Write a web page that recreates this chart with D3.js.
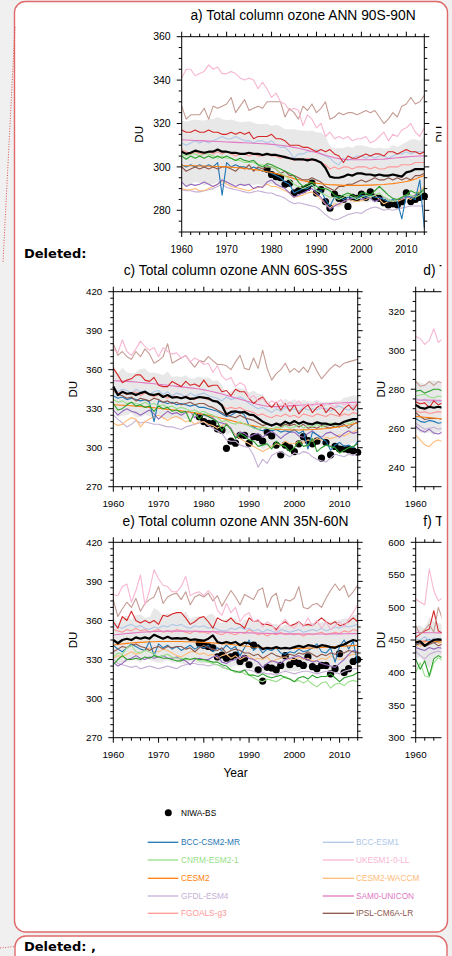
<!DOCTYPE html>
<html><head><meta charset="utf-8">
<script src="https://cdn.jsdelivr.net/npm/d3@7"></script>
<style>
html,body{margin:0;padding:0;background:#f0f0f0;}
svg{display:block;}
</style></head><body>
<svg id="chart" width="452" height="956"></svg>
<script>
// ---------------- categories ----------------
const years = d3.range(1960, 2015);        // 1960..2014
const yearsShort = d3.range(1960, 1967);   // visible part of panels d and f
const obsYears = d3.range(1979, 2015);     // NIWA-BS record

// ---------------- tick labels ----------------
const xTickLabels = [1960, 1970, 1980, 1990, 2000, 2010];
const aYTicks = [280, 300, 320, 340, 360];
const cYTicks = [270, 300, 330, 360, 390, 420];
const dYTicks = [240, 260, 280, 300, 320];
const eYTicks = [270, 300, 330, 360, 390, 420];
const fYTicks = [300, 350, 400, 450, 500, 550, 600];

// ---------------- models ----------------
const modelKeys   = ["GFDL_ESM4","CESM2_WACCM","X_purple","BCC_CSM2_MR","IPSL_CM6A_LR","CESM2","CNRM_ESM2_1","X_green","FGOALS_g3","BCC_ESM1","SAM0_UNICON","X_red","X_lbrown","UKESM1_0_LL"];
const modelColors = ["#c5b0d5","#ffbb78","#9467bd","#1f77b4","#8c564b","#ff7f0e","#98df8a","#2ca02c","#ff9896","#aec7e8","#e377c2","#d62728","#c49c94","#f7b6d2"];

const legendLeft  = ["BCC-CSM2-MR","CNRM-ESM2-1","CESM2","GFDL-ESM4","FGOALS-g3"];
const legendLeftC = ["#1f77b4","#98df8a","#ff7f0e","#c5b0d5","#ff9896"];
const legendRight = ["BCC-ESM1","UKESM1-0-LL","CESM2-WACCM","SAM0-UNICON","IPSL-CM6A-LR"];
const legendRightC= ["#aec7e8","#f7b6d2","#ffbb78","#e377c2","#8c564b"];

// ================= panel a : 90S-90N =================
const a_UKESM1_0_LL = [341,345,345,342,343,344,347,345,346,343, 343,344,343,341,340,341,340,336,339,336, 332,334,330,329,326,327,326,319,324,322, 318,320,314,316,313,314,313,314,312,313, 313,314,311,312,314,316,312,315,314,317, 318,320,316,314,318];
const a_X_lbrown = [328,322,324,324,324,327,322,328,327,328, 329,332,325,328,331,326,327,328,327,330, 330,330,330,323,327,325,322,328,326,329, 325,327,330,322,323,325,324,325,325,324, 325,326,325,326,323,320,322,325,323,328, 329,332,329,330,333];
const a_X_red = [317,316,316,317,316,316,317,316,316,315, 315,316,315,316,315,316,313,314,314,314, 315,313,313,312,310,310,310,309,309,308, 307,308,307,308,306,305,302,305,304,304, 305,306,305,306,306,305,307,307,306,307, 308,307,307,306,307];
const a_BCC_ESM1 = [311,310,311,312,311,312,311,312,313,314, 313,313,314,313,312,312,311,312,312,311, 312,310,309,309,307,304,306,306,307,307, 308,306,305,304,302,301,304,303,304,305, 305,304,305,304,305,305,304,305,306,306, 307,306,307,307,307];
const a_SAM0_UNICON = [312.5,312.4,312.3,312.2,312.1,312.0,311.9,311.8,311.7,311.6, 311.5,311.4,311.3,311.2,311.1,311.0,310.9,310.8,310.7,310.6, 310.4,310.2,310.0,309.7,309.4,309.0,308.6,308.1,307.6,307.1, 306.6,306.0,305.4,304.8,304.2,303.8,303.5,303.4,303.3,303.3, 303.3,303.3,303.3,303.4,303.5,303.6,303.8,304.0,304.2,304.4, 304.6,304.8,304.9,305.0,305.1];
const a_FGOALS_g3 = [308,307,306,307,306,306,307,306,307,306, 307,306,305,306,306,305,306,305,305,306, 305,305,304,305,304,303,304,303,304,303, 303,302,301,299,300,299,300,300,299,300, 300,300,299,300,299,299,300,300,300,301, 301,301,302,302,302];
const a_X_green = [305,303.5,305,304,305,304,305,304,305,304, 305,304,303,304,303,302.5,303,301,300,301.5, 301,300,299,298,297,296,293,291,292,293, 291,290,290,289,287,286,287,288,287,286, 288,288,287,289,291,289,287,285.5,285,286, 287,289,288,288,290];
const a_CNRM_ESM2_1 = [306,305,306,306,305,306,306,305,304,305, 304,304,303,303,302,302,302,301,301,300, 300,299,297,296,294,292,291,290,291,292, 289,288,287,286,286,285,286,287,286,285, 286,287,286,287,288,286,285,284,285,286, 287,287,286,287,289];
const a_CESM2 = [300.5,300.5,300.5,300.5,300.4,300.4,300.3,300.3,300.2,300.1, 300.0,299.9,299.7,299.5,299.3,299.0,298.8,298.5,298.2,297.8, 297.4,296.9,296.4,295.8,295.2,294.6,294.1,293.6,293.2,292.8, 292.5,292.2,292.0,291.8,291.7,291.6,291.5,291.5,291.5,291.5, 291.5,291.6,291.6,291.7,291.8,291.9,292.1,292.3,292.6,292.9, 293.3,293.8,294.4,295.2,296];
const a_IPSL_CM6A_LR = [300,298,299,300,299,300,299,300,299,300, 300,299,298,300,299,301,298,300,299,300, 300,299,297,298,296,296,295,294,294,295, 294,293,291,290,289,291,291,292,292,293, 294,293,294,295,294,294,295,294,295,294, 295,294,296,296,297];
const a_BCC_CSM2_MR = [301,300,301,300,301,300,301,300,302,287, 302,300,301,300,300,299,300,299,298,298, 297,296,295,293,292,288,289,290,290,292, 289,289,285,282,286,286,285,286,286,285, 287,286,287,286,286,285,284,285,284,276, 287,286,285,294,272];
const a_X_purple = [293,291,292,291.5,292,293,292,291,292,294, 293,292,291,292,291.5,292,290,291,290.5,293, 294,292,291,290,288,286,287,288,289,290, 288,286,283,280.5,282,283,284,285,285.5,286, 285,286,285.5,284,285,286,285,284,285,285.5, 286,286,287,288,289];
const a_CESM2_WACCM = [290,289.5,289.5,290,289,289,290,291,292,293.5, 292,291,290.5,290,289.5,289,290,290.5,291,292, 291,291,290,289,288,286,286.5,287,288,288.5, 287,285,283,281,283,282.5,284,285,284.5,284, 284.5,285,286,287,285,283,284,284.5,284,285, 286,285,287,289,291];
const a_GFDL_ESM4 = [289.5,289,289,288.5,288.5,289,289.5,290,291,292, 290.5,290,289.5,289,288.5,288,288.5,289,288.5,288, 288,287,286.5,285.5,284,283,283.5,283,282.5,282, 281.5,280,278,276.5,275.5,276,277,278,278.5,279, 278.5,280,281,281.5,281,280,280.5,280,280.5,281, 281.5,282,282,282,282];
const a_mean = [307,306,306.5,307.5,307,306.5,307,307,308,307, 307,306.5,306.5,306,306,306.5,306,306,305.5,306, 305.5,305.5,305,304.5,304,303.5,303.5,303.5,303,303.5, 303,302,299.5,295.5,295,295,295.5,296.5,296,297, 297,296.5,296.5,296,296.5,296,296,296.5,296,295.5, 297.5,298,299,299,299];
const a_obs = [299,296.5,295.5,295,292,292.5,288,289,289.5,290.5, 292.5,288,289.5,284,281,287.5,285.5,285,281.8,286, 285.5,287.5,286,288.5,286,285.5,283.5,282.5,283,282.5, 284,288,284,285,286,286.5];

// ================= panel c : 60S-35S =================
const c_UKESM1_0_LL = [376,373,383,374,371,376,382,378,375,377, 370,377,374,372,373,369,371,366,369,367, 364,365,358,363,355,352,354,347,350,348, 338,340,336,338,333,336,334,337,332,335, 333,336,331,334,332,335,330,334,333,331, 335,333,334,332,335];
const c_X_lbrown = [380,371,374,370,368,374,370,376,372,365, 367,370,380,365,367,369,371,366,362,367, 366,370,367,364,364,363,360,366,371,361, 360,369,361,375,361,352,357,360,365,358, 361,358,362,358,366,359,353,357,361,364, 362,365,366,367,368];
const c_X_red = [361,356,350,352,353,356,356,352,351,354, 348,347,347,351,349,347,351,348,349,347, 352,347,348,348,343,344,340,345,343,343, 338,334,337,339,334,331,335,329,334,328, 333,326,330,333,327,331,333,327,331,329, 325,330,333,329,334];
const c_SAM0_UNICON = [351.5,351.4,351.2,351.0,350.8,350.5,350.2,349.9,349.6,349.2, 348.8,348.4,348.0,347.6,347.2,346.8,346.4,346.0,345.6,345.1, 344.5,343.8,343.0,342.2,341.3,340.3,339.3,338.3,337.3,336.3, 335.3,334.3,333.3,332.5,331.9,331.6,331.6,331.8,332.0,332.2, 332.4,332.6,332.8,333.0,333.2,333.4,333.6,333.8,334.0,334.2, 334.4,334.6,334.8,334.9,335.0];
const c_BCC_ESM1 = [347,343,345,344,342,345,343,344,341,343, 344,341,343,340,342,341,339,342,340,341, 342,340,339,338,336,339,337,338,339,337, 334,332,330,331,329,327,330,328,331,329, 330,328,331,329,330,329,331,330,328,331, 332,330,329,331,328];
const c_FGOALS_g3 = [344,342,343,341,342,343,340,342,341,339, 341,340,338,340,339,338,340,338,337,339, 338,337,336,335,333,330,331,330,331,329, 328,327,325,326,324,323,325,324,326,324, 325,323,326,325,324,326,325,324,326,325, 324,326,325,327,326];
const c_IPSL_CM6A_LR = [344,341,340,338,339,336,338,337,336,338, 337,335,336,334,335,333,334,335,333,334, 334,332,331,329,327,325,324,323,325,323, 322,321,319,317,318,317,319,316,318,317, 318,316,318,315,316,315,317,316,315,317, 316,318,315,318,320];
const c_BCC_CSM2_MR = [340,338,339,337,338,337,336,337,335,320, 336,335,334,335,333,334,333,332,333,331, 331,330,329,328,326,324,325,327,328,325, 317,316,314,313,315,313,314,312,313,312, 314,311,313,299,312,310,307,305,298,302, 304,301,302,300,305];
const c_CESM2 = [333,332.9,332.7,332.5,332.3,332.0,331.7,331.4,331.0,330.7, 330.3,329.9,329.5,329.1,328.7,328.3,327.8,327.3,326.8,326.2, 325.6,324.9,324.2,323.4,322.6,321.8,320.9,320.0,319.1,318.3, 317.5,316.8,316.1,315.5,315.0,314.6,314.3,314.0,313.8,313.7, 313.6,313.6,313.7,313.8,314.0,314.2,314.5,314.8,315.2,315.6, 316.1,316.7,317.4,318.2,319];
const c_X_green = [334,329,330,333,335,332,333,331,332,328, 332,330,331,328,329,327,328,320,327,322, 326,324,322,320,313,318,314,307,311,309, 306,305,301,302,303,299,305,302,301,297, 300,305,301,302,307,297,300,302,301,300, 296,298,300,301,303];
const c_CNRM_ESM2_1 = [337,335,336,334,335,334,333,335,333,334, 332,333,331,332,330,331,330,328,329,327, 328,326,325,323,320,321,319,318,320,318, 317,315,314,316,315,314,316,315,317,315, 316,318,315,317,316,318,316,317,319,317, 318,320,318,320,323];
const c_X_purple = [329,325,328,330,328,327,325,327,329,326, 322,325,328,326,327,325,327,328,323,326, 325,324,323,320,319,318,315,308,312,311, 308,310,311,308,311,313,310,307,310,312, 312,309,308,311,313,310,308,311,312,310, 308,311,313,311,312];
const c_CESM2_WACCM = [319,317,318,321,323,322,316,320,322,324, 325,323,321,323,324,322,320,321,318,320, 320,318,317,315,317,319,314,310,307,305, 303,301,299,297,299,301,303,302,305,303, 303,305,304,306,305,307,306,308,307,308, 310,309,311,312,314];
const c_GFDL_ESM4 = [325,322,319,316,318,321,319,320,319,318, 318,317,316,316,315,314,316,317,318,319, 320,317,315,313,311,306,305,305,302,301, 300,294,285,291,288,294,296,297,295,293, 296,295,297,296,293,291,290,289,292,295, 294,293,295,294,296];
const c_mean = [347,340.5,343,341.5,342,340.5,342,343,341,340.5, 341.5,339,340.5,338.5,339,338,339,337.5,338,339, 338.5,338,336,335.5,332.5,325.5,327.5,328,327,327.5, 325.5,325,322.5,320,318.5,317,318.5,317.5,320,318.5, 320.5,318.5,320,318.5,318,319.5,318.5,318.5,317.5,318.5, 318,320,321,322,322];
const c_obs = [323.8,320,318.7,318.5,314.5,313.5,299.5,305,303.5,309.5, 309.5,303.5,308.5,308,305,312,309,302,294.5,302, 300,297,303,308.5,305.5,303,305,292,304,294.5, 301,299,299,298.5,297.5,296.5];

// ================= panel e : 35N-60N =================
const e_UKESM1_0_LL = [380,379,386,388,374,383,395,372,383,399, 392,387,386,382,382,386,394,379,381,382, 379,383,379,368,364,373,366,370,359,364, 366,359,361,355,359,357,351,357,361,356, 354,359,355,362,356,360,354,359,353,356, 359,355,361,366,372];
const e_X_lbrown = [376,363,369,374,370,377,367,373,376,378, 386,373,378,380,381,376,382,372,378,380, 378,381,375,379,371,377,383,378,372,380, 378,376,383,385,370,378,381,367,376,375, 377,386,370,369,372,373,370,377,383,388, 383,387,378,382,387];
const e_X_red = [359,354,363,360,367,360,358,360,358,360, 357,364,363,365,366,366,362,357,359,362, 363,359,354,362,360,359,362,358,357,354, 362,359,360,357,357,356,353,357,359,356, 357,359,356,357,356,359,362,359,357,359, 356,357,359,362,359];
const e_BCC_ESM1 = [357,355,354,356,357,355,356,354,353,355, 354,356,355,357,356,357,355,354,356,355, 356,354,355,353,352,352,354,353,355,353, 354,352,353,351,353,352,350,353,352,351, 352,353,351,352,353,352,354,352,353,355, 354,356,355,356,357];
const e_FGOALS_g3 = [353,352,351,353,352,354,352,353,351,352, 353,351,352,351,353,352,351,350,352,351, 351,350,352,350,349,351,350,349,351,350, 353,351,349,350,348,350,349,351,349,350, 349,350,348,350,349,350,351,349,350,351, 350,352,351,353,352];
const e_SAM0_UNICON = [348.8,349.2,349.6,350.0,350.3,350.6,350.9,351.1,351.3,351.5, 351.6,351.7,351.8,351.8,351.8,351.8,351.8,351.7,351.7,351.6, 351.5,351.4,351.3,351.2,351.1,351.0,350.9,350.8,350.7,350.6, 350.5,350.4,350.3,350.2,350.1,350.0,349.9,349.8,349.8,349.7, 349.7,349.6,349.6,349.6,349.6,349.6,349.6,349.6,349.7,349.7, 349.7,349.8,349.8,349.9,349.9];
const e_CESM2 = [341.2,341.6,342.0,342.4,342.7,343.0,343.2,343.4,343.6,343.7, 343.8,343.9,343.9,343.9,343.9,343.8,343.7,343.6,343.5,343.4, 343.2,343.0,342.8,342.5,342.2,341.9,341.6,341.2,340.8,340.4, 340.0,339.7,339.4,339.1,338.9,338.7,338.6,338.5,338.5,338.5, 338.5,338.6,338.7,338.8,338.9,339.1,339.3,339.5,339.7,339.9, 340.1,340.3,340.5,340.7,340.9];
const e_IPSL_CM6A_LR = [336,338,340,339,341,342,340,339,337,339, 340,338,340,339,340,340,338,339,336,339, 341,339,338,337,339,335,337,338,337,335, 335,333,334,331,333,335,333,332,332,334, 333,335,334,336,334,332,334,333,335,334, 336,335,337,336,335];
const e_BCC_CSM2_MR = [341,338,336,339,342,340,338,337,344,333, 342,339,341,338,340,337,339,341,338,340, 339,341,336,339,337,341,338,340,333,339, 345,337,340,335,338,337,339,335,334,336, 335,338,336,337,339,342,336,335,339,328, 340,345,338,344,327];
const e_CESM2_WACCM = [331,333,332,334,336,334,335,337,339,336, 336,338,337,335,333,332,334,336,336,334, 335,333,334,331,333,334,331,333,330,332, 333,330,331,330,332,328,330,331,332,330, 330,332,330,331,329,329,331,330,333,331, 330,331,333,334,334];
const e_X_purple = [328,325,327,330,331,333,331,330,332,331, 332,333,331,331,332,330,329,326,330,331, 330,330,332,333,328,327,329,330,332,333, 331,330,328,324,327,329,328,327,330,331, 332,333,331,330,328,329,327,326,325,324, 327,330,334,337,336];
const e_X_green = [326,330,333,330,330,331,330,332,331,333, 332,331,331,330,329,329,331,330,331,330, 330,329,328,328,326,325,322,321,320,322, 318,318,317,319,317,316,317,318,316,315, 313,316,317,315,318,316,317,317,319,316, 313,316,317,318,320];
const e_CNRM_ESM2_1 = [332,335,334,339,341,336,335,337,336,334, 332,333,334,332,331,331,330,330,331,329, 329,328,327,326,324,323,322,320,321,319, 318,316,314,313,315,314,313,315,317,315, 313,314,312,314,311,309,312,313,308,311, 312,310,313,314,313];
const e_GFDL_ESM4 = [330,327,326,325,324,325,323,324,325,324, 323,324,325,324,323,325,326,327,327,326, 326,325,326,326,325,323,322,321,321,322, 322,321,319,320,319,319,318,320,321,320, 319,320,321,321,320,319,320,321,321,320, 319,321,322,323,323];
const e_mean = [345,342.5,345,346,345,347,346,347,346,349, 347.5,346,347.5,346,346.5,346,346.5,345,345.5,345, 344.5,346,348.5,343.5,342.5,343.5,342.5,343.5,341,343, 342.5,340,341,338,339,338.5,339.5,338.5,339,338.5, 339.5,340.5,339.5,341,340.5,339.5,341,340.5,339.5,339, 340.5,341.5,343.5,345,344];
const e_obs = [342.5,341,340,339,332,333.5,331,332,333.5,328.5, 331,326,341,322,313.5,324,323.5,322,325.5,333, 326,328.5,327,325.5,332,324.5,323,325.5,325.5,319, 323,334.5,320,323,328.5,330];

// ================= panel d (visible start only) =================
const d_UKESM1_0_LL = [307,306,303,305,311,304,306];
const d_X_lbrown    = [284,281.5,282,284,282,284,283];
const d_X_green     = [279,279.5,278,279,280,280,279];
const d_CNRM_ESM2_1 = [276.5,277,277.5,276,275.5,276.5,276];
const d_X_red       = [273.5,272.5,273,270.5,274,272,273];
const d_SAM0_UNICON = [274.5,274.5,274.4,274.4,274.3,274.3,274.2];
const d_BCC_ESM1    = [275.5,274,275,273,274.5,273.5,274];
const d_FGOALS_g3   = [269,268,268.5,267.5,268,268.5,268];
const d_IPSL_CM6A_LR= [268,266,264.5,265,265,265,264.5];
const d_CESM2       = [266,265.8,265.6,265.4,265.2,265.0,264.8];
const d_BCC_CSM2_MR = [265,263.5,263,264,263.5,262.5,263];
const d_CESM2_WACCM = [256.5,254,251.5,250.5,253,254,253];
const d_X_purple    = [261,259,258,259.5,257.5,257,258];
const d_GFDL_ESM4   = [262.5,261,259.5,260,260.5,259.5,260];
const d_mean        = [272,270.5,270,271,270.5,271,270.5];

// ================= panel f (visible start only) =================
const f_UKESM1_0_LL = [513,508,504,559,526,510,515];
const f_X_lbrown    = [472,459,466,474,462,500,480];
const f_X_red       = [454,459,464,467,495,464,460];
const f_SAM0_UNICON = [461.5,461.4,461.3,461.2,461.1,461,460.9];
const f_BCC_ESM1    = [452,450,455,449,453,451,452];
const f_FGOALS_g3   = [448,447,449,446,452,450,449];
const f_CESM2       = [448,448,447.8,447.6,447.4,447.2,447];
const f_CESM2_WACCM = [444,440,446,443,450,445,447];
const f_IPSL_CM6A_LR= [442,445,440,443,446,441,444];
const f_BCC_CSM2_MR = [447,444,449,451,446,448,450];
const f_X_purple    = [438.5,436,434,438.5,436,438.5,437];
const f_GFDL_ESM4   = [433,426,421,428,431,433,430];
const f_X_green     = [420,405,418,395,421,426,422];
const f_CNRM_ESM2_1 = [400,415,395,393,415,423,418];
const f_mean        = [446,448,441,446,450,451,450];

// ---------------- assemble ----------------
function collect(prefix, src){ const o = {}; modelKeys.forEach(k => o[k] = src[prefix + k]); return o; }
const SRC = {a_UKESM1_0_LL,a_X_lbrown,a_X_red,a_BCC_ESM1,a_SAM0_UNICON,a_FGOALS_g3,a_X_green,a_CNRM_ESM2_1,a_CESM2,a_IPSL_CM6A_LR,a_BCC_CSM2_MR,a_X_purple,a_CESM2_WACCM,a_GFDL_ESM4,
 c_UKESM1_0_LL,c_X_lbrown,c_X_red,c_BCC_ESM1,c_SAM0_UNICON,c_FGOALS_g3,c_X_green,c_CNRM_ESM2_1,c_CESM2,c_IPSL_CM6A_LR,c_BCC_CSM2_MR,c_X_purple,c_CESM2_WACCM,c_GFDL_ESM4,
 e_UKESM1_0_LL,e_X_lbrown,e_X_red,e_BCC_ESM1,e_SAM0_UNICON,e_FGOALS_g3,e_X_green,e_CNRM_ESM2_1,e_CESM2,e_IPSL_CM6A_LR,e_BCC_CSM2_MR,e_X_purple,e_CESM2_WACCM,e_GFDL_ESM4,
 d_UKESM1_0_LL,d_X_lbrown,d_X_red,d_BCC_ESM1,d_SAM0_UNICON,d_FGOALS_g3,d_X_green,d_CNRM_ESM2_1,d_CESM2,d_IPSL_CM6A_LR,d_BCC_CSM2_MR,d_X_purple,d_CESM2_WACCM,d_GFDL_ESM4,
 f_UKESM1_0_LL,f_X_lbrown,f_X_red,f_BCC_ESM1,f_SAM0_UNICON,f_FGOALS_g3,f_X_green,f_CNRM_ESM2_1,f_CESM2,f_IPSL_CM6A_LR,f_BCC_CSM2_MR,f_X_purple,f_CESM2_WACCM,f_GFDL_ESM4};

const FONT = "'Liberation Sans', Arial, Helvetica, sans-serif";
const CLIP_X = 441.5;

const panels = [
 {title:"a) Total column ozone ANN 90S-90N", anchor:"middle", x0:181.7, y0:36.7, w:242.6, h:195.3, dom:[270,360], yt:aYTicks, minorStep:5, yrs:years, series:collect("a_",SRC), mean:a_mean, obs:a_obs, duX:142.5, yFs:10.5, xFs:10},
 {title:"c) Total column ozone ANN 60S-35S", anchor:"middle", x0:113.3, y0:291.7, w:244.4, h:195, dom:[270,420], yt:cYTicks, minorStep:5, yrs:years, series:collect("c_",SRC), mean:c_mean, obs:c_obs, duX:76.5, yFs:9.8, xFs:9.8},
 {title:"d) T", anchor:"start", x0:415.7, y0:291.7, w:244.4, h:195, dom:[230,330], yt:dYTicks, minorStep:5, yrs:yearsShort, series:collect("d_",SRC), mean:d_mean, obs:null, duX:384.8, yFs:9.8, xFs:9.8},
 {title:"e) Total column ozone ANN 35N-60N", anchor:"middle", x0:113.3, y0:542.3, w:244.4, h:195.4, dom:[270,420], yt:eYTicks, minorStep:5, yrs:years, series:collect("e_",SRC), mean:e_mean, obs:e_obs, duX:76.5, yFs:9.8, xFs:9.8},
 {title:"f) T", anchor:"start", x0:415.7, y0:542.3, w:244.4, h:195.4, dom:[300,600], yt:fYTicks, minorStep:10, yrs:yearsShort, series:collect("f_",SRC), mean:f_mean, obs:null, duX:384.8, yFs:9.8, xFs:9.8}
];

// ---------------- page decorations ----------------
const svg = d3.select("#chart");
svg.append("rect").attr("width",452).attr("height",956).attr("fill","#f0f0f0");
svg.append("rect").attr("x",14.5).attr("y",1.5).attr("width",433).attr("height",930.5).attr("rx",11)
  .attr("fill","#fff").attr("stroke","#e06a6a").attr("stroke-width",1.4);
svg.append("rect").attr("x",15).attr("y",936).attr("width",432).attr("height",40).attr("rx",11)
  .attr("fill","#fff").attr("stroke","#e06a6a").attr("stroke-width",1.4);
svg.append("path").attr("d","M15,27 L3,262").attr("fill","none").attr("stroke","#d9534f")
  .attr("stroke-width",1).attr("stroke-dasharray","1,1.6");
svg.append("path").attr("d","M0,948 L15,946.5").attr("fill","none").attr("stroke","#d9534f")
  .attr("stroke-width",1).attr("stroke-dasharray","1,1.6");
svg.append("text").attr("x",24).attr("y",258).text("Deleted:")
  .attr("font-family","'DejaVu Sans', Verdana, sans-serif").attr("font-weight","bold").attr("font-size",13).attr("fill","#000");
svg.append("text").attr("x",24).attr("y",951).text("Deleted: ,")
  .attr("font-family","'DejaVu Sans', Verdana, sans-serif").attr("font-weight","bold").attr("font-size",13).attr("fill","#000");

svg.append("defs").append("clipPath").attr("id","clipR")
  .append("rect").attr("x",0).attr("y",0).attr("width",CLIP_X).attr("height",956);
const chart = svg.append("g").attr("clip-path","url(#clipR)");

// ---------------- panels ----------------
panels.forEach(p => {
  const g = chart.append("g");
  const x = d3.scaleLinear().domain([1960,2014]).range([p.x0, p.x0 + p.w]);
  const y = d3.scaleLinear().domain(p.dom).range([p.y0 + p.h, p.y0]);

  // spread band: multi-model mean +/- inter-model standard deviation
  const band = p.yrs.map((yr,i) => {
    const sd = d3.deviation(modelKeys.map(k => p.series[k][i]));
    return {yr, lo:p.mean[i]-sd, hi:p.mean[i]+sd};
  });
  g.append("path").datum(band).attr("fill","#e8e8e8")
    .attr("d", d3.area().x(d=>x(d.yr)).y0(d=>y(d.lo)).y1(d=>y(d.hi)));

  // observations
  if (p.obs) {
    g.selectAll("circle.obs").data(p.obs.map((v,i)=>({yr:obsYears[i], v})))
      .join("circle").attr("cx",d=>x(d.yr)).attr("cy",d=>y(d.v)).attr("r",3.6).attr("fill","#000");
  }

  // model lines
  const line = d3.line().x((d,i)=>x(p.yrs[i])).y(d=>y(d));
  modelKeys.forEach((k,mi) => {
    g.append("path").datum(p.series[k]).attr("fill","none")
      .attr("stroke",modelColors[mi]).attr("stroke-width",1.1).attr("stroke-linejoin","round").attr("d",line);
  });
  // multi-model mean
  g.append("path").datum(p.mean).attr("fill","none").attr("stroke","#000")
    .attr("stroke-width",2.2).attr("stroke-linejoin","round").attr("d",line);

  // frame
  g.append("rect").attr("x",p.x0).attr("y",p.y0).attr("width",p.w).attr("height",p.h)
    .attr("fill","none").attr("stroke","#000").attr("stroke-width",1);

  // ticks
  const tk = g.append("g").attr("stroke","#000").attr("stroke-width",1);
  const yMinor = d3.range(p.dom[0], p.dom[1] + 0.001, p.minorStep).filter(v => !p.yt.includes(v));
  const xMinor = d3.range(1960, 2015, 2).filter(v => !xTickLabels.includes(v));
  const yT = [...p.yt.map(v=>({v,l:5})), ...yMinor.map(v=>({v,l:3}))];
  const xT = [...xTickLabels.map(v=>({v,l:5})), ...xMinor.map(v=>({v,l:3}))];
  yT.forEach(t => {
    tk.append("line").attr("x1",p.x0 - t.l).attr("x2",p.x0).attr("y1",y(t.v)).attr("y2",y(t.v));
    tk.append("line").attr("x1",p.x0 + p.w).attr("x2",p.x0 + p.w + t.l).attr("y1",y(t.v)).attr("y2",y(t.v));
  });
  xT.forEach(t => {
    tk.append("line").attr("x1",x(t.v)).attr("x2",x(t.v)).attr("y1",p.y0 - t.l).attr("y2",p.y0);
    tk.append("line").attr("x1",x(t.v)).attr("x2",x(t.v)).attr("y1",p.y0 + p.h).attr("y2",p.y0 + p.h + t.l);
  });

  // tick labels (only those inside the visible crop)
  p.yt.forEach(v => {
    g.append("text").attr("x",p.x0 - 11).attr("y",y(v)).attr("dy","0.35em").attr("text-anchor","end")
      .attr("font-family",FONT).attr("font-size",p.yFs).attr("fill","#000").text(v);
  });
  xTickLabels.filter(v => x(v) + 12 < CLIP_X).forEach(v => {
    g.append("text").attr("x",x(v)).attr("y",p.y0 + p.h + 20.6).attr("text-anchor","middle")
      .attr("font-family",FONT).attr("font-size",p.xFs).attr("fill","#000").text(v);
  });

  // axis title
  g.append("text").attr("transform",`translate(${p.duX},${p.y0 + p.h/2}) rotate(-90)`).attr("text-anchor","middle")
    .attr("font-family",FONT).attr("font-size",11.5).attr("fill","#000").text("DU");

  // panel title
  g.append("text").attr("x", p.anchor === "middle" ? p.x0 + p.w/2 : 423.3).attr("y",p.y0 - 16.4)
    .attr("text-anchor",p.anchor).attr("font-family",FONT).attr("font-size",13.8).attr("fill","#000").text(p.title);
});

// panel b (only its y-axis title edge is visible)
chart.append("text").attr("transform","translate(443.5,134.3) rotate(-90)").attr("text-anchor","middle")
  .attr("font-family",FONT).attr("font-size",11.5).attr("fill","#000").text("DU");

// x-axis title
chart.append("text").attr("x",235.5).attr("y",776.7).attr("text-anchor","middle")
  .attr("font-family",FONT).attr("font-size",12).attr("fill","#000").text("Year");

// ---------------- legend ----------------
const lg = svg.append("g").attr("font-family",FONT).attr("font-size",8.3);
lg.append("circle").attr("cx",168.3).attr("cy",812.7).attr("r",3.5).attr("fill","#000");
lg.append("text").attr("x",181).attr("y",812.7).attr("dy","0.35em").attr("fill","#000").text("NIWA-BS");
const rowsY = [842.3, 860, 878.3, 896, 913.3];
legendLeft.forEach((n,i) => {
  lg.append("line").attr("x1",147.7).attr("x2",178.3).attr("y1",rowsY[i]).attr("y2",rowsY[i]).attr("stroke",legendLeftC[i]).attr("stroke-width",1.3);
  lg.append("text").attr("x",181).attr("y",rowsY[i]).attr("dy","0.35em").attr("fill",legendLeftC[i]).text(n);
});
legendRight.forEach((n,i) => {
  lg.append("line").attr("x1",322.7).attr("x2",354).attr("y1",rowsY[i]).attr("y2",rowsY[i]).attr("stroke",legendRightC[i]).attr("stroke-width",1.3);
  lg.append("text").attr("x",356).attr("y",rowsY[i]).attr("dy","0.35em").attr("fill",legendRightC[i]).text(n);
});
</script>
</body></html>
